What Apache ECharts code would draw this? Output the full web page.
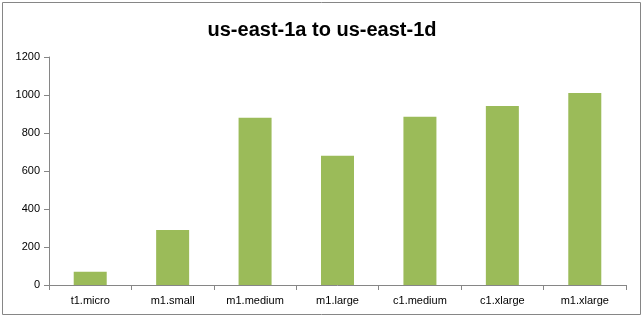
<!DOCTYPE html>
<html><head><meta charset="utf-8">
<script src="https://cdn.jsdelivr.net/npm/echarts@6/dist/echarts.min.js"></script>
<style>html,body{margin:0;padding:0;background:#fff}#c{width:644px;height:321px}</style>
</head><body><div id="c"></div>
<script>
const titleText = "us-east-1a to us-east-1d";
const categories = ["t1.micro","m1.small","m1.medium","m1.large","c1.medium","c1.xlarge","m1.xlarge"];
const values = [70, 290, 880, 680, 885, 942, 1010];
const yTicks = {min: 0, max: 1200, interval: 200};

const chart = echarts.init(document.getElementById('c'), null, {renderer: 'canvas'});
chart.setOption({
  animation: false,
  backgroundColor: '#ffffff',
  title: {
    text: titleText, left: 'center', top: 15,
    textStyle: {fontFamily: 'Liberation Sans', fontWeight: 'bold', fontSize: 20, color: '#000'}
  },
  graphic: [{
    type: 'rect', shape: {x: 2.5, y: 2.5, width: 638, height: 312},
    style: {fill: 'none', stroke: '#868686', lineWidth: 1}, silent: true, z: -1
  }],
  grid: {left: 49, right: 18, top: 57, bottom: 36, containLabel: false},
  xAxis: {
    type: 'category', data: categories,
    axisLine: {lineStyle: {color: '#868686', width: 1}},
    axisTick: {show: true, alignWithLabel: false, length: 5, lineStyle: {color: '#868686'}},
    axisLabel: {fontFamily: 'Liberation Sans', fontSize: 11, color: '#000', margin: 10}
  },
  yAxis: {
    type: 'value', min: yTicks.min, max: yTicks.max, interval: yTicks.interval,
    splitLine: {show: false},
    axisLine: {show: true, lineStyle: {color: '#868686', width: 1}},
    axisTick: {show: true, length: 5, lineStyle: {color: '#868686'}},
    axisLabel: {fontFamily: 'Liberation Sans', fontSize: 11, color: '#000', margin: 9,
      formatter: v => String(v)}
  },
  series: [{
    type: 'bar', data: values, barWidth: 33,
    itemStyle: {color: '#9BBB59'}
  }]
});
</script></body></html>
